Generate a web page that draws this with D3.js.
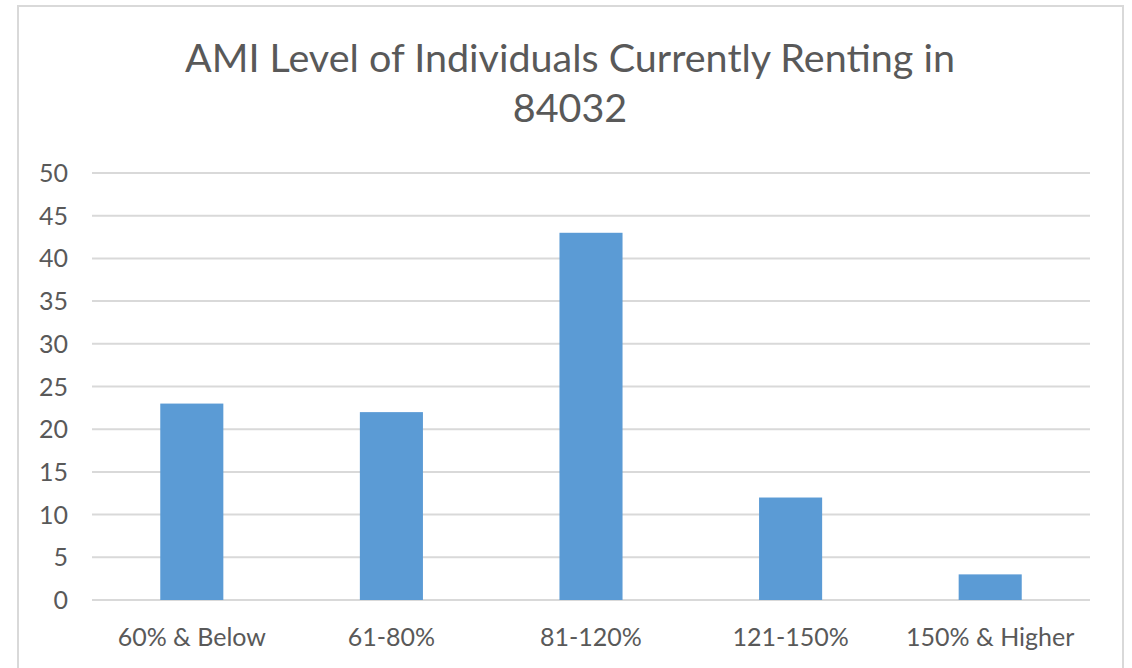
<!DOCTYPE html>
<html>
<head>
<meta charset="utf-8">
<script src="https://cdn.jsdelivr.net/npm/d3@7"></script>
<style>
  body { margin: 0; background: #fff; }
  text { font-family: Lato, "Open Sans", sans-serif; fill: #595959; }
</style>
</head>
<body>
<script>
const categories = ['60% & Below', '61-80%', '81-120%', '121-150%', '150% & Higher'];
const values = [23, 22, 43, 12, 3];
const yTicks = [0, 5, 10, 15, 20, 25, 30, 35, 40, 45, 50];
const titleLines = ['AMI Level of Individuals Currently Renting in', '84032'];

const W = 1132, H = 668;
const plotLeft = 92, plotRight = 1090, plotTop = 173, plotBottom = 600;

const svg = d3.select('body').append('svg')
  .attr('width', W)
  .attr('height', H);

// chart area border
svg.append('rect')
  .attr('x', 18).attr('y', 6)
  .attr('width', 1105).attr('height', 700)
  .attr('fill', 'none')
  .attr('stroke', '#d9d9d9')
  .attr('stroke-width', 2);

const x = d3.scaleBand()
  .domain(categories)
  .range([plotLeft, plotRight])
  .paddingInner(0.684)
  .paddingOuter(0.342);

const y = d3.scaleLinear()
  .domain([0, 50])
  .range([plotBottom, plotTop]);

// gridlines
svg.append('g')
  .selectAll('line')
  .data(yTicks)
  .join('line')
  .attr('x1', plotLeft).attr('x2', plotRight)
  .attr('y1', d => y(d)).attr('y2', d => y(d))
  .attr('stroke', '#d9d9d9')
  .attr('stroke-width', 2);

// y labels
svg.append('g')
  .selectAll('text')
  .data(yTicks)
  .join('text')
  .attr('x', 68)
  .attr('y', d => y(d))
  .attr('dy', '0.36em')
  .attr('text-anchor', 'end')
  .style('font-size', '25px')
  .text(d => d);

// bars
svg.append('g')
  .selectAll('rect')
  .data(values)
  .join('rect')
  .attr('x', (d, i) => x(categories[i]))
  .attr('width', x.bandwidth())
  .attr('y', d => y(d))
  .attr('height', d => y(0) - y(d))
  .attr('fill', '#5b9bd5');

// x labels
svg.append('g')
  .selectAll('text')
  .data(categories)
  .join('text')
  .attr('x', d => x(d) + x.bandwidth() / 2)
  .attr('y', 646)
  .attr('text-anchor', 'middle')
  .style('font-size', '25px')
  .text(d => d);

// title
svg.append('g')
  .selectAll('text')
  .data(titleLines)
  .join('text')
  .attr('x', 570)
  .attr('y', (d, i) => 72 + i * 50)
  .attr('text-anchor', 'middle')
  .style('font-size', '39.5px')
  .text(d => d);
</script>
</body>
</html>
